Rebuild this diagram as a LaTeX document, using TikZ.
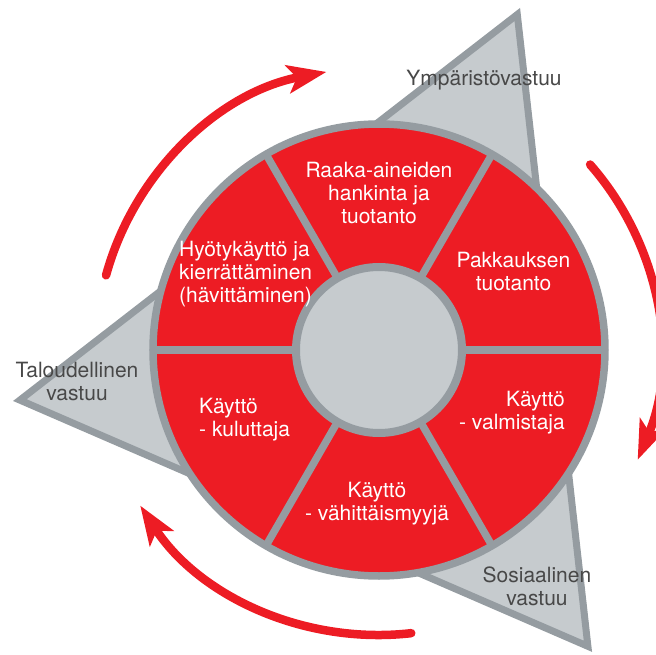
\documentclass[tikz,border=0pt]{standalone}
\usepackage{fontspec}
\setmainfont{TeX Gyre Heros}
\usetikzlibrary{arrows.meta}
\definecolor{wheelred}{RGB}{237,28,36}
\definecolor{rimgray}{RGB}{149,156,161}
\definecolor{hubgray}{RGB}{198,203,206}
\definecolor{labelgray}{RGB}{72,72,72}
\tikzset{
  rim/.style={draw=rimgray, line width=7.5pt},
  seglabel/.style={text=white, inner sep=0pt, font=\fontsize{21}{23}\selectfont},
  trilabel/.style={text=labelgray, inner sep=0pt, align=center, anchor=base, font=\fontsize{21}{23}\selectfont},
  cyclearrow/.style={draw=wheelred, line width=8.5pt, line cap=round, -{Stealth[length=39pt,width=28pt,inset=9pt]}}
}
\begin{document}
\begin{tikzpicture}[x=1pt,y=1pt]
    \useasboundingbox (-379,-304) rectangle (277,350);
    % Triangle behind the wheel
    \coordinate (envtip) at (138.3,335.5);
    \coordinate (econtip) at (-359.1,-50.1);
    \coordinate (soctip) at (208.9,-296.3);
    \filldraw[fill=hubgray, draw=rimgray, line width=7pt, line join=miter] (envtip) -- (econtip) -- (soctip) -- cycle;
    % Wheel and its six parts
    \filldraw[rim, fill=wheelred] (0,0) circle[radius=226];
    \foreach \a in {0,60,...,300}
        \draw[rim] (\a:80) -- (\a:226);
    \filldraw[rim, line width=8pt, fill=hubgray] (0,0) circle[radius=83];
    % Labels of the parts (base = last line)
    \node[seglabel, align=center, anchor=base] (rawmat) at (0,126.7) {Raaka-aineiden\\hankinta ja\\tuotanto};
    \node[seglabel, align=center, anchor=base] (packprod) at (134.5,60) {Pakkauksen\\tuotanto};
    \node[seglabel, align=right, anchor=base east] (usemaker) at (186,-79.3) {Käyttö\\- valmistaja};
    \node[seglabel, align=center, anchor=base] (useretail) at (-2,-170) {Käyttö\\- vähittäismyyjä};
    \node[seglabel, align=left, anchor=base west] (useconsumer) at (-180,-86) {Käyttö\\- kuluttaja};
    \node[seglabel, align=left, anchor=base west] (recycle) at (-200,47.3) {Hyötykäyttö ja\\kierrättäminen\\(hävittäminen)};
    % Labels of the triangle corners
    \node[trilabel] (envlabel) at (105,264) {Ympäristövastuu};
    \node[trilabel] (econlabel) at (-302,-50) {Taloudellinen\\vastuu};
    \node[trilabel] (soclabel) at (158,-255) {Sosiaalinen\\vastuu};
    % Arrows round the wheel
    \draw[cyclearrow] (164.7:283) arc[start angle=164.7, end angle=100.7, radius=283];
    \draw[cyclearrow] (41.3:281) arc[start angle=41.3, end angle=-23, radius=281];
    \draw[cyclearrow] (-83.5:285) arc[start angle=-83.5, end angle=-146.9, radius=285];
\end{tikzpicture}
\end{document}
